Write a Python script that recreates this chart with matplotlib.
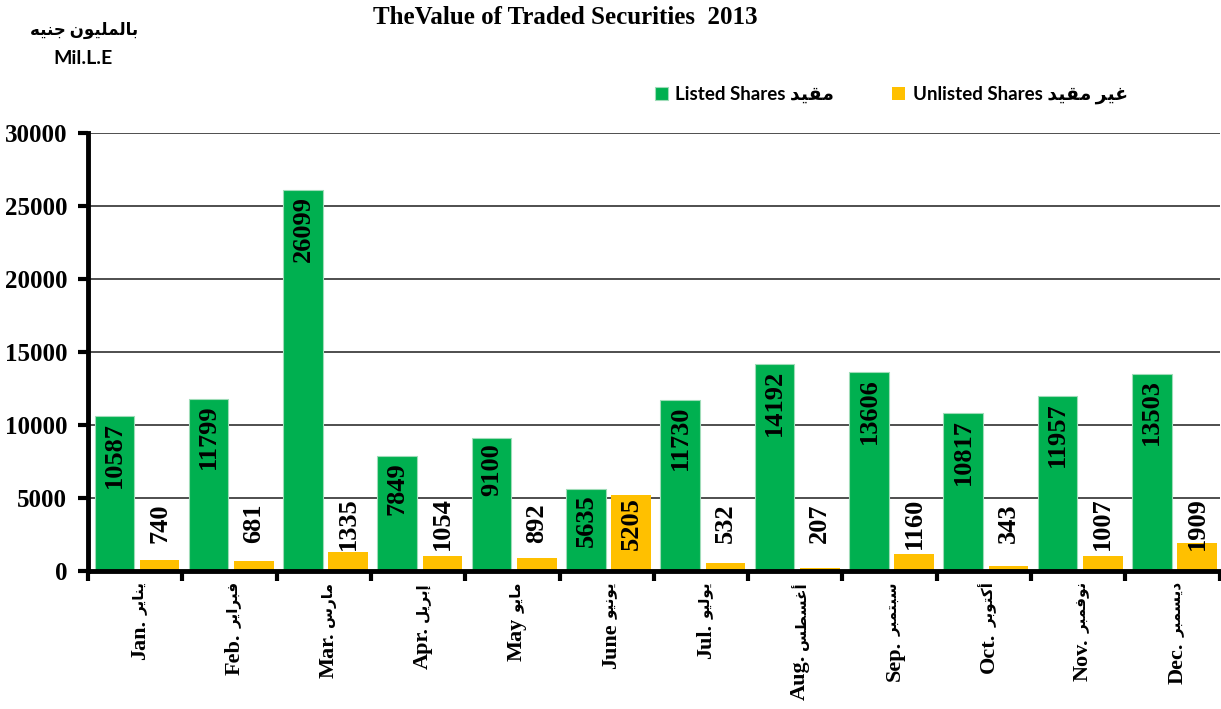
import numpy as np
import matplotlib.pyplot as plt
from matplotlib.ticker import MultipleLocator, FixedLocator

# ---------------------- data ----------------------
months_en = ['Jan.', 'Feb.', 'Mar.', 'Apr.', 'May', 'June', 'Jul.', 'Aug.',
             'Sep.', 'Oct.', 'Nov.', 'Dec.']
months_ar = ['يناير', 'فبراير', 'مارس', 'إبريل', 'مايو', 'يونيو', 'يوليو', 'أغسطس',
             'سبتمبر', 'أكتوبر', 'نوفمبر', 'ديسمبر']
listed = [10587, 11799, 26099, 7849, 9100, 5635, 11730, 14192, 13606, 10817, 11957, 13503]
unlisted = [740, 681, 1335, 1054, 892, 5205, 532, 207, 1160, 343, 1007, 1909]

# ---------------------- simple arabic shaping (no bidi lib here) ----------------------
# isolated code point in Presentation Forms-B, number of forms (4 = joins both sides)
AR_FORMS = {
    'ا': (0xFE8D, 2), 'أ': (0xFE83, 2), 'إ': (0xFE87, 2), 'آ': (0xFE81, 2),
    'ب': (0xFE8F, 4), 'ت': (0xFE95, 4), 'ج': (0xFE9D, 4), 'د': (0xFEA9, 2),
    'ر': (0xFEAD, 2), 'س': (0xFEB1, 4), 'ط': (0xFEC1, 4), 'غ': (0xFECD, 4),
    'ف': (0xFED1, 4), 'ق': (0xFED5, 4), 'ك': (0xFED9, 4), 'ل': (0xFEDD, 4),
    'م': (0xFEE1, 4), 'ن': (0xFEE5, 4), 'ه': (0xFEE9, 4), 'و': (0xFEED, 2),
    'ي': (0xFEF1, 4),
}


def shape_ar(s):
    out = []
    for i, ch in enumerate(s):
        if ch not in AR_FORMS:
            out.append(ch)
            continue
        base, n = AR_FORMS[ch]
        prev = s[i - 1] if i > 0 else ''
        nxt = s[i + 1] if i + 1 < len(s) else ''
        join_prev = prev in AR_FORMS and AR_FORMS[prev][1] == 4
        join_next = n == 4 and nxt in AR_FORMS
        out.append(chr(base + int(join_prev) + 2 * int(join_next)))
    return ''.join(out)[::-1]


serif = ['Liberation Serif', 'DejaVu Sans']
sans = ['Lato', 'DejaVu Sans']
GREEN = '#00B050'
ORANGE = '#FFC000'

# ---------------------- plot ----------------------
fig = plt.figure(figsize=(12.21, 7.09), dpi=100)
ax = fig.add_axes([0.072, 0.1946, 0.927, 0.6178])

x = np.arange(len(listed))
w = 0.42
b1 = ax.bar(x - 0.22, listed, w, color=GREEN, edgecolor='#9fdcb8', linewidth=0.8, zorder=3,
            label='Listed Shares ' + shape_ar('مقيد'))
b2 = ax.bar(x + 0.26, unlisted, w, color=ORANGE, zorder=3,
            label='Unlisted Shares ' + shape_ar('غير مقيد'))

# value labels
for xi, v in zip(x, listed):
    ax.annotate(str(v), (xi - 0.22, v), xytext=(0, -4), textcoords='offset points',
                rotation=90, ha='center', va='top', fontsize=19, fontweight='bold',
                family=serif, zorder=4)
for xi, v in zip(x, unlisted):
    ax.text(xi + 0.26, 3250, str(v), rotation=90, ha='center', va='center',
            fontsize=19, fontweight='bold', family=serif, zorder=4)

ax.set_xlim(-0.5, len(listed) - 0.5)
ax.set_ylim(0, 30000)
ax.yaxis.set_major_locator(MultipleLocator(5000))
ax.grid(axis='y', color='#404040', linewidth=1.3, zorder=0)
ax.grid(axis='x', visible=False)

# arabic month as the tick label (next to axis), english part placed below it
ax.set_xticks(x + 0.05)
ax.set_xticklabels([shape_ar(a) for a in months_ar], rotation=90, fontsize=11,
                   fontweight='bold', family=['DejaVu Sans'])
ax.xaxis.set_minor_locator(FixedLocator(np.arange(-0.5, len(listed), 1.0)))
ax.tick_params(axis='x', which='major', length=0, pad=8)
ax.tick_params(axis='x', which='minor', length=7, width=3, direction='out')
ax.tick_params(axis='y', length=7, width=3, direction='out', pad=8)
for lab in ax.get_yticklabels():
    lab.set_fontsize(18)
    lab.set_fontweight('bold')
    lab.set_family(serif)

for s in ['top', 'right']:
    ax.spines[s].set_visible(False)
for s in ['left', 'bottom']:
    ax.spines[s].set_linewidth(3.5)
    ax.spines[s].set_zorder(5)

fig.canvas.draw()
inv = fig.transFigure.inverted()
for lab, en in zip(ax.get_xticklabels(), months_en):
    bb = lab.get_window_extent()
    x0, y0 = inv.transform((bb.x0 + bb.width / 2, bb.y0 - 5))
    fig.text(x0, y0, en, rotation=90, ha='center', va='top',
             fontsize=16, fontweight='bold', family=serif)

fig.text(0.463, 0.975, 'TheValue of Traded Securities  2013', ha='center', va='center',
         fontsize=18, fontweight='bold', family=serif)
fig.text(0.069, 0.957, shape_ar('بالمليون جنيه'), ha='center', va='center',
         fontsize=12, fontweight='bold', family=sans)
fig.text(0.068, 0.918, 'Mil.L.E', ha='center', va='center',
         fontsize=14, fontweight='bold', family=sans)

fig.legend(handles=[b1, b2], loc='center', bbox_to_anchor=(0.73, 0.866), ncol=2,
           frameon=False, prop={'family': sans, 'weight': 'bold', 'size': 13.5},
           handlelength=0.7, handleheight=0.7, handletextpad=0.4, columnspacing=3.1)

plt.savefig('out.png', dpi=100)
